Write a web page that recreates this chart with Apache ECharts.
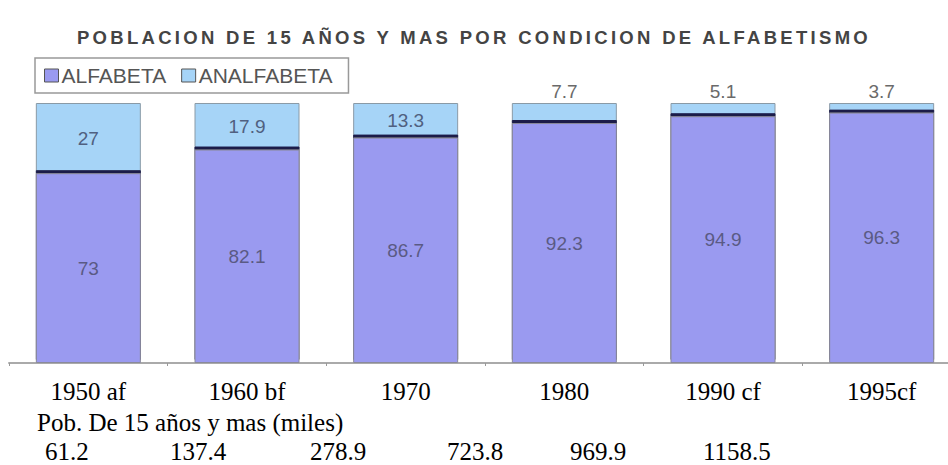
<!DOCTYPE html>
<html>
<head>
<meta charset="utf-8">
<title>Poblacion de 15 años y mas por condicion de alfabetismo</title>
<script src="https://cdn.jsdelivr.net/npm/echarts@6/dist/echarts.min.js"></script>
<style>
    html, body { margin: 0; padding: 0; background: #fff; }
    #chart { width: 948px; height: 465px; }
</style>
</head>
<body>
<div id="chart"></div>
<script>
// datos
const titleText = 'POBLACION DE 15 AÑOS Y MAS POR CONDICION DE ALFABETISMO'
const categories = ['1950 af', '1960 bf', '1970', '1980', '1990 cf', '1995cf']
const alfabeta = [73, 82.1, 86.7, 92.3, 94.9, 96.3]
const analfabeta = [27, 17.9, 13.3, 7.7, 5.1, 3.7]
const popHeading = 'Pob. De 15 años y mas (miles)'
const population = ['61.2', '137.4', '278.9', '723.8', '969.9', '1158.5']

// posiciones del texto de abajo (x de cada numero)
const popX = [45, 170, 310, 447, 570, 703]

document.addEventListener('DOMContentLoaded', function () {
    const myChart = echarts.init(document.getElementById('chart'), null, {renderer: 'svg'})

    const serif = "'Liberation Serif', 'Times New Roman', serif"
    const sans = "'Liberation Sans', Arial, sans-serif"

    // texto de abajo (fuera del grafico en el original)
    const bottomText = [{
        type: 'text',
        left: 37,
        top: 410,
        style: {text: popHeading, font: '25px ' + serif, fill: '#000', lineHeight: 21}
    }]
    population.forEach(function (p, i) {
        bottomText.push({
            type: 'text',
            left: popX[i],
            top: 439,
            style: {text: p, font: '25px ' + serif, fill: '#000', lineHeight: 21}
        })
    })

    const option = {
        animation: false,
        backgroundColor: '#fff',
        title: {
            text: titleText,
            left: 'center',
            top: 23,
            textStyle: {
                fontFamily: sans,
                fontSize: 18.5,
                fontWeight: 'bold',
                color: '#444'
            }
        },
        legend: {
            left: 35,
            top: 58,
            padding: [7, 16, 7, 9],
            itemWidth: 14,
            itemHeight: 13,
            itemGap: 15,
            icon: 'rect',
            backgroundColor: '#fff',
            borderColor: '#999',
            borderWidth: 1.5,
            borderRadius: 0,
            itemStyle: {borderColor: '#555', borderWidth: 1, shadowOffsetY: 0, shadowColor: 'transparent'},
            textStyle: {fontFamily: sans, fontSize: 21, color: '#555', padding: [0, 0, 0, -2]}
        },
        grid: {
            left: 9,
            width: 952,
            top: 103,
            bottom: 102,
            containLabel: false,
            outerBoundsMode: 'none'
        },
        xAxis: {
            type: 'category',
            data: categories,
            axisLine: {lineStyle: {color: '#aaa', width: 2}},
            axisTick: {show: true, length: 3, lineStyle: {color: '#999'}},
            axisLabel: {
                margin: 16,
                fontFamily: serif,
                fontSize: 25,
                color: '#000'
            }
        },
        yAxis: {
            type: 'value',
            min: 0,
            max: 100,
            show: false,
            splitLine: {show: false}
        },
        graphic: bottomText,
        series: [
            {
                name: 'ALFABETA',
                type: 'bar',
                stack: 'total',
                barWidth: 105,
                z: 3,
                data: alfabeta,
                itemStyle: {
                    color: '#9a9af0',
                    borderColor: '#8a8a9a',
                    borderWidth: 1,
                    // linea oscura sobre la barra
                    shadowColor: '#1c1c48',
                    shadowBlur: 0,
                    shadowOffsetY: -3
                },
                label: {
                    show: true,
                    position: 'inside',
                    fontFamily: sans,
                    fontSize: 19,
                    color: '#5a5a84'
                }
            },
            {
                name: 'ANALFABETA',
                type: 'bar',
                stack: 'total',
                barWidth: 105,
                z: 2,
                data: analfabeta.map(function (v) {
                    return {
                        value: v,
                        label: v < 10
                            ? {position: 'top', distance: 2, color: '#6a6a6a'}
                            : {position: 'inside', color: '#506080'}
                    }
                }),
                itemStyle: {
                    color: '#a6d4f7',
                    borderColor: '#8a9aa6',
                    borderWidth: 1
                },
                label: {
                    show: true,
                    fontFamily: sans,
                    fontSize: 19
                }
            }
        ]
    }

    myChart.setOption(option)

    // espaciado de letras del titulo
    document.querySelectorAll('#chart text').forEach(function (t) {
        if (t.textContent === titleText) {
            t.style.letterSpacing = '3.3px'
        }
    })
})
</script>
</body>
</html>
